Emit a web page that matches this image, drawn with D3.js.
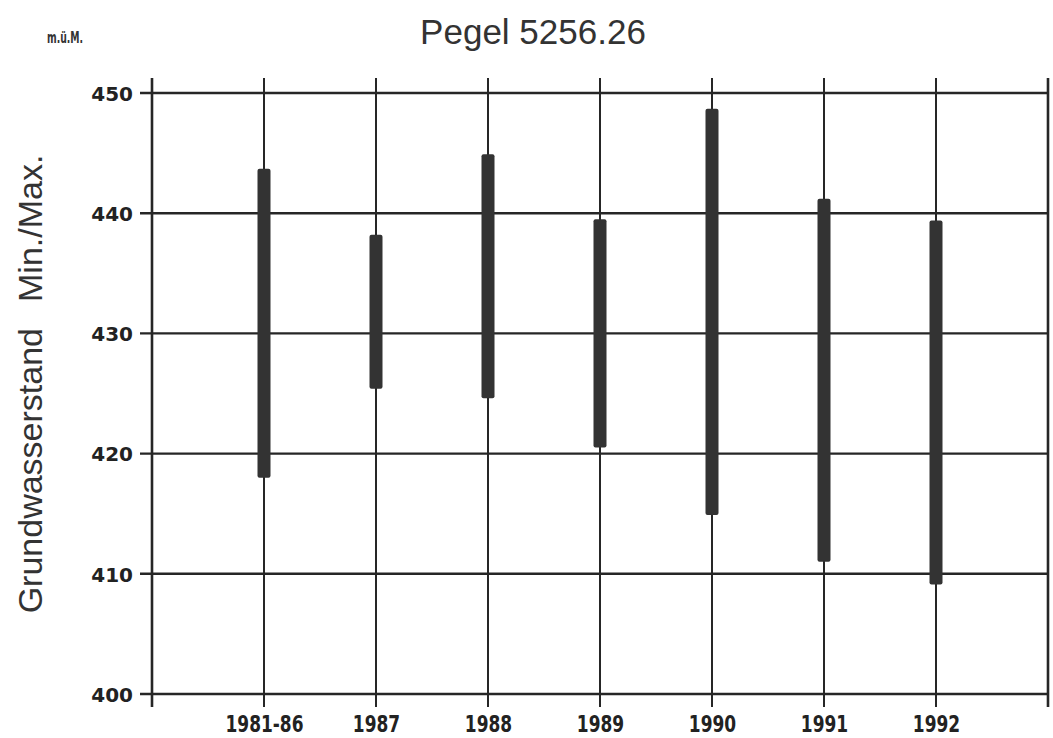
<!DOCTYPE html>
<html>
<head>
<meta charset="utf-8">
<script src="https://cdn.jsdelivr.net/npm/d3@7"></script>
<style>
  html, body { margin: 0; padding: 0; background: #fff; }
  svg { display: block; }
</style>
</head>
<body>
<svg id="chart" width="1053" height="738"></svg>
<script>
// ---- data ----
const categories = ["1981-86", "1987", "1988", "1989", "1990", "1991", "1992"];
const minValues  = [418.0, 425.4, 424.6, 420.5, 414.9, 411.0, 409.1];
const maxValues  = [443.7, 438.2, 444.9, 439.5, 448.7, 441.2, 439.4];
const yTicks     = [400, 410, 420, 430, 440, 450];
const titleText  = "Pegel 5256.26";
const unitText   = "m.ü.M.";
const yLabelMain = "Grundwasserstand";
const yLabelSub  = "Min./Max.";

// ---- layout ----
const svg = d3.select("#chart");
const plotLeft = 152, plotRight = 1048, plotTop = 93, plotBottom = 694;
const lineColor = "#262626";
const barColor = "#333333";

const x = d3.scalePoint().domain(categories).range([plotLeft, plotRight]).padding(1);
const y = d3.scaleLinear().domain([400, 450]).range([plotBottom, plotTop]);

// horizontal gridlines (with left tick stubs)
svg.append("g").selectAll("line").data(yTicks).join("line")
  .attr("x1", plotLeft - 12).attr("x2", plotRight)
  .attr("y1", d => y(d)).attr("y2", d => y(d))
  .attr("stroke", lineColor).attr("stroke-width", 2.4);

// vertical category lines
svg.append("g").selectAll("line").data(categories).join("line")
  .attr("x1", d => x(d)).attr("x2", d => x(d))
  .attr("y1", plotTop - 15).attr("y2", plotBottom + 13)
  .attr("stroke", lineColor).attr("stroke-width", 2);

// left axis and right border
svg.append("g").selectAll("line").data([plotLeft, plotRight]).join("line")
  .attr("x1", d => d).attr("x2", d => d)
  .attr("y1", plotTop - 15).attr("y2", plotBottom + 13)
  .attr("stroke", lineColor).attr("stroke-width", 2.6);

// y tick labels via axis generator
const yAxis = d3.axisLeft(y).tickValues(yTicks).tickSize(0).tickPadding(0);
const gy = svg.append("g").attr("transform", `translate(${plotLeft - 19},0)`).call(yAxis);
gy.select(".domain").remove();
gy.selectAll("text")
  .attr("font-family", "'DejaVu Sans', sans-serif")
  .attr("font-weight", "bold")
  .attr("font-size", 20)
  .attr("fill", "#222")
  .attr("dy", "0.36em");

// x tick labels via axis generator
const xAxis = d3.axisBottom(x).tickSize(0).tickPadding(0);
const gx = svg.append("g").attr("transform", `translate(0,${plotBottom + 22})`).call(xAxis);
gx.select(".domain").remove();
gx.selectAll("text")
  .attr("font-family", "'DejaVu Sans', sans-serif")
  .attr("font-weight", "bold")
  .attr("font-size", 23)
  .attr("fill", "#222")
  .attr("dy", "0.71em")
  .attr("transform", "scale(0.74,1)");

// min/max bars
const barW = 13;
svg.append("g").selectAll("rect").data(categories).join("rect")
  .attr("x", d => x(d) - barW / 2)
  .attr("width", barW)
  .attr("y", (d, i) => y(maxValues[i]))
  .attr("height", (d, i) => y(minValues[i]) - y(maxValues[i]))
  .attr("rx", 2)
  .attr("fill", barColor);

// title
svg.append("text")
  .attr("x", 533).attr("y", 44)
  .attr("text-anchor", "middle")
  .attr("font-family", "'Liberation Sans', Arial, sans-serif")
  .attr("font-size", 35)
  .attr("fill", "#333")
  .text(titleText);

// unit
svg.append("text")
  .attr("transform", "translate(47,43) scale(0.62,1)")
  .attr("font-family", "'DejaVu Sans', sans-serif")
  .attr("font-weight", "bold")
  .attr("font-size", 15)
  .attr("fill", "#333")
  .text(unitText);

// y label (rotated)
const yl = svg.append("text")
  .attr("transform", "translate(42,384) rotate(-90)")
  .attr("text-anchor", "middle")
  .attr("font-family", "'Liberation Sans', Arial, sans-serif")
  .attr("font-size", 34)
  .attr("fill", "#333");
yl.append("tspan").text(yLabelMain);
yl.append("tspan").attr("dx", 26).text(yLabelSub);
</script>
</body>
</html>
